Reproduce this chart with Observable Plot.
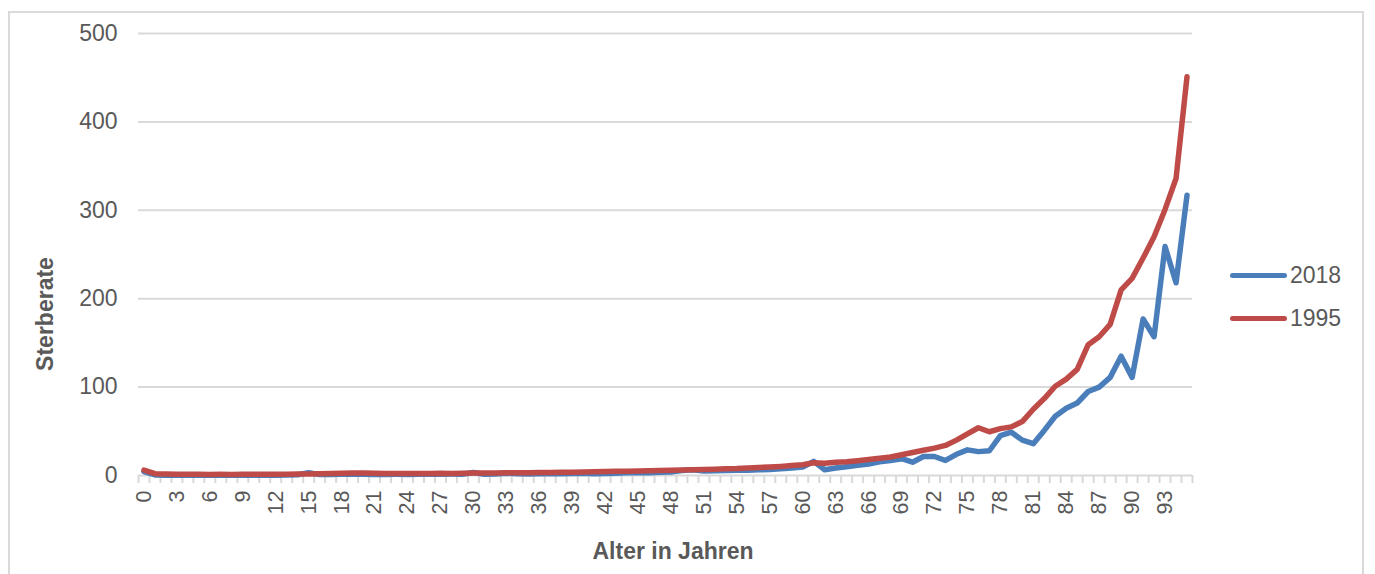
<!DOCTYPE html>
<html>
<head>
<meta charset="utf-8">
<script src="https://cdn.jsdelivr.net/npm/d3@7"></script>
<script src="https://cdn.jsdelivr.net/npm/@observablehq/plot@0.6"></script>
<style>
  html, body { margin: 0; padding: 0; background: #fff; }
  #wrap { position: relative; width: 1375px; height: 574px; overflow: hidden; font-family: "Liberation Sans", Arial, sans-serif; }
  #frame { position: absolute; left: 8px; top: 11px; width: 1356px; height: 620px; border: 2px solid #d9d9d9; box-sizing: border-box; }
  #chart { position: absolute; left: 0; top: 0; }
  #legend { position: absolute; left: 1230px; top: 0; }
  .item { position: absolute; left: 0; display: flex; align-items: center; white-space: nowrap; font-size: 23px; color: #595959; }
  .sw { width: 57px; height: 5px; border-radius: 3px; margin-right: 3px; }
  .title { position: absolute; font-weight: bold; font-size: 23px; line-height: 1; color: #595959; white-space: nowrap; }
  #ytitle { left: 45px; top: 314px; transform: translate(-50%, -50%) rotate(-90deg); }
  #xtitle { left: 673px; top: 540px; transform: translateX(-50%); }
</style>
</head>
<body>
<div id="wrap">
  <div id="frame"></div>
  <div id="chart"></div>
  <div id="legend"></div>
  <div class="title" id="ytitle"></div>
  <div class="title" id="xtitle"></div>
</div>
<script>
const ages = d3.range(0, 96);
const seriesNames = ["2018", "1995"];
const seriesColors = ["#4a7ebb", "#be4b48"];
const yTicks = [0, 100, 200, 300, 400, 500];
const xTickLabels = d3.range(0, 94, 3);
const yTitle = "Sterberate";
const xTitle = "Alter in Jahren";

const values2018 = [
  4.5, 0.6, 0.4, 0.3, 0.3, 0.3, 0.3, 0.3, 0.3, 0.4,
  0.4, 0.4, 0.4, 0.5, 0.8, 3.2, 1.0, 1.2, 1.4, 1.3,
  1.3, 1.2, 1.2, 1.3, 1.2, 1.3, 1.4, 1.5, 1.6, 1.5,
  3.4, 1.4, 1.6, 2.6, 1.9, 1.8, 1.9, 2.0, 2.1, 2.3,
  2.6, 2.0, 2.2, 2.5, 3.0, 3.5, 3.2, 3.7, 4.0, 5.6,
  6.5, 5.0, 5.4, 5.6, 6.0, 5.8, 6.4, 6.8, 7.6, 8.4,
  9.5, 16, 6.5, 8.5, 10, 11.5, 13, 15.5, 17, 19,
  15, 21.5, 21.5, 17, 24, 29, 27, 28, 45, 49,
  40, 36, 51, 67, 76, 82, 95, 100, 111, 135,
  111, 177, 157, 259, 218, 317
];
const values1995 = [
  6.0, 2.0, 1.6, 1.4, 1.3, 1.3, 1.2, 1.3, 1.2, 1.3,
  1.3, 1.4, 1.3, 1.5, 1.6, 1.8, 2.0, 2.3, 2.6, 2.8,
  2.7, 2.5, 2.4, 2.2, 2.3, 2.2, 2.3, 2.5, 2.4, 2.6,
  2.8, 2.7, 2.9, 3.1, 3.0, 3.2, 3.4, 3.5, 3.7, 3.8,
  4.1, 4.3, 4.4, 4.7, 4.9, 5.1, 5.3, 5.6, 5.8, 6.2,
  6.5, 6.9, 7.2, 7.7, 8.0, 8.6, 9.1, 9.6, 10.3, 11.2,
  12.2, 14.5, 13.8, 15, 15.5, 16.8, 18.2, 19.5, 21, 23.5,
  26, 28.5, 31, 34, 40, 47, 54, 49.5, 53, 55,
  61, 75, 87, 101, 109, 120, 148, 157, 171, 210,
  223, 246, 270, 301, 336, 451
];

const rows = [];
ages.forEach((a, i) => {
  rows.push({age: a, value: values2018[i], series: seriesNames[0]});
});
ages.forEach((a, i) => {
  rows.push({age: a, value: values1995[i], series: seriesNames[1]});
});
const boundaries = ages.map(a => a - 0.5).concat([ages[ages.length - 1] + 0.5]);

const txt = "#595959";
const grid = "#d9d9d9";

const chart = Plot.plot({
  width: 1375,
  height: 574,
  marginLeft: 138,
  marginRight: 183,
  marginTop: 33,
  marginBottom: 99,
  style: {fontFamily: "'Liberation Sans', Arial, sans-serif", color: txt, background: "transparent", overflow: "visible"},
  x: {type: "linear", domain: [boundaries[0], boundaries[boundaries.length - 1]], axis: null},
  y: {domain: [0, 500], axis: null},
  color: {domain: seriesNames, range: seriesColors},
  marks: [
    Plot.gridY(yTicks.slice(1), {stroke: grid, strokeOpacity: 1, strokeWidth: 2}),
    Plot.ruleY([0], {stroke: grid, strokeWidth: 2}),
    Plot.axisY(yTicks, {tickSize: 0, tickPadding: 21, fontSize: 23, fill: txt, label: null}),
    Plot.axisX(boundaries, {tickSize: 8, tickFormat: () => "", stroke: grid, strokeWidth: 2, label: null}),
    Plot.axisX(xTickLabels, {tickSize: 0, tickPadding: 15, tickRotate: -90, fontSize: 21.5, fill: txt, label: null}),
    Plot.line(rows, {x: "age", y: "value", z: "series", stroke: "series", strokeWidth: 5.5, strokeLinejoin: "round", strokeLinecap: "round"})
  ]
});
document.getElementById("chart").appendChild(chart);

document.getElementById("ytitle").textContent = yTitle;
document.getElementById("xtitle").textContent = xTitle;

const legend = document.getElementById("legend");
const legendTops = [262, 305];
seriesNames.forEach((name, i) => {
  const item = document.createElement("div");
  item.className = "item";
  item.style.top = legendTops[i] + "px";
  const sw = document.createElement("div");
  sw.className = "sw";
  sw.style.background = seriesColors[i];
  const label = document.createElement("span");
  label.textContent = name;
  item.appendChild(sw);
  item.appendChild(label);
  legend.appendChild(item);
});
</script>
</body>
</html>
